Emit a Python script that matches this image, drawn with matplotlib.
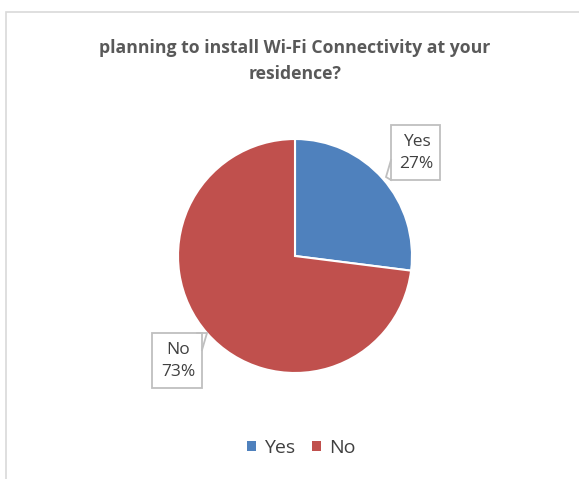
import numpy as np
import matplotlib.pyplot as plt
from matplotlib.patches import Rectangle

# datos
categorias = ["Yes", "No"]
valores = [27, 73]
colores = ["#4F81BD", "#C0504D"]
titulo = "planning to install Wi-Fi Connectivity at your\nresidence?"

W, H = 579, 479
fig = plt.figure(figsize=(W / 100, H / 100), dpi=100)
ax = fig.add_axes([0, 0, 1, 1])


def py(y):
    # pixel desde arriba -> coordenada de datos
    return H - y


# centro y radio en pixeles
cx, cy, r = 295, py(256), 117

wedges, _ = ax.pie(valores, colors=colores, startangle=90, counterclock=False,
                   center=(cx, cy), radius=r,
                   wedgeprops=dict(edgecolor="white", linewidth=1.5))
ax.set_xlim(0, W)
ax.set_ylim(0, H)
ax.set_aspect("equal")
ax.axis("off")

# marco del grafico
ax.add_patch(Rectangle((6, -5), W, H - 12 + 5, fill=False,
                       edgecolor="#D9D9D9", linewidth=1.2, clip_on=False))

ax.text(cx, py(61), titulo, ha="center", va="center", fontsize=12.7,
        fontweight="bold", color="#595959", family="Open Sans", linespacing=1.6)

# etiquetas tipo callout: caja (x0, y0, x1, y1) y flecha en pixeles
total = sum(valores)
cajas = [(391, 125, 440, 180), (152, 333, 202, 388)]
flechas = [[(391, 160), (386, 177), (391, 180)],
           [(197, 333), (207, 333), (202, 350)]]
gris = "#BFBFBF"
for cat, val, (x0, y0, x1, y1), fl in zip(categorias, valores, cajas, flechas):
    ax.add_patch(Rectangle((x0, py(y1)), x1 - x0, y1 - y0, facecolor="white",
                           edgecolor=gris, linewidth=1.3, zorder=3))
    xs, ys = zip(*fl)
    ax.plot(xs, [py(v) for v in ys], color=gris, linewidth=1.3, zorder=3,
            solid_joinstyle="miter")
    ax.text((x0 + x1) / 2 + 1, py((y0 + y1) / 2), f"{cat}\n{val / total * 100:.0f}%",
            ha="center", va="center", fontsize=12.5, color="#404040",
            family="Open Sans", linespacing=1.5, zorder=4)

leg = ax.legend(wedges, categorias, loc="center", bbox_to_anchor=(301 / W, 1 - 448 / H),
                ncol=2, frameon=False, handlelength=0.46, handleheight=0.46,
                handletextpad=0.41, columnspacing=0.88,
                prop=dict(family="Open Sans", size=14))
for t in leg.get_texts():
    t.set_color("#404040")
for h in leg.legend_handles:
    h.set_edgecolor("none")

fig.savefig("out.png", dpi=100)
